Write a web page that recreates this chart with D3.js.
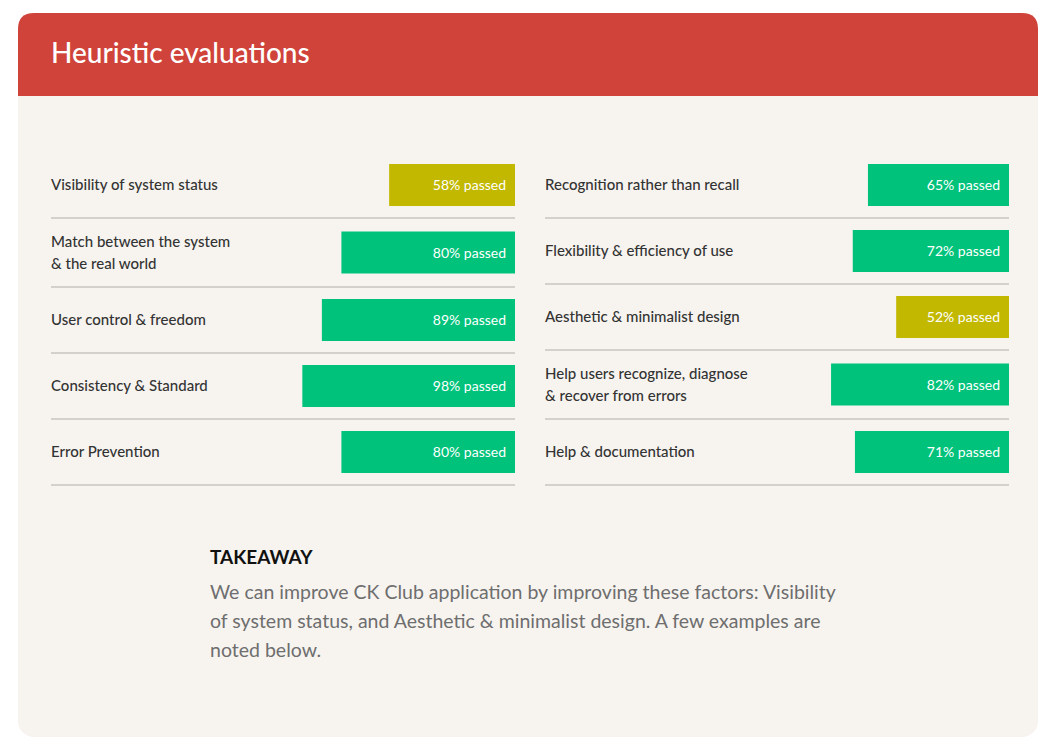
<!DOCTYPE html>
<html>
<head>
<meta charset="utf-8">
<script src="https://cdn.jsdelivr.net/npm/d3@7"></script>
<style>
  body { margin: 0; background: #fff; }
  svg { display: block; font-family: Lato, "Noto Sans", sans-serif; }
</style>
</head>
<body>
<svg id="chart" width="1056" height="750"></svg>
<script>
// heuristics, split in the two columns as on the slide
var leftLabels = [
  ['Visibility of system status'],
  ['Match between the system', '& the real world'],
  ['User control & freedom'],
  ['Consistency & Standard'],
  ['Error Prevention']
];
var leftValues = [58, 80, 89, 98, 80];

var rightLabels = [
  ['Recognition rather than recall'],
  ['Flexibility & efficiency of use'],
  ['Aesthetic & minimalist design'],
  ['Help users recognize, diagnose', '& recover from errors'],
  ['Help & documentation']
];
var rightValues = [65, 72, 52, 82, 71];

var passMark = 60; // below this the bar gets the warning colour

var takeawayLines = [
  'We can improve CK Club application by improving these factors: Visibility',
  'of system status, and Aesthetic & minimalist design. A few examples are',
  'noted below.'
];

var svg = d3.select('#chart');
var red = '#CF433B', green = '#00C27A', olive = '#C2B800';

// card + header
svg.append('rect')
  .attr('x', 18).attr('y', 13).attr('width', 1020).attr('height', 724)
  .attr('rx', 16).attr('fill', '#F7F4F0');

svg.append('path')
  .attr('d', 'M18,96 V29 Q18,13 34,13 H1022 Q1038,13 1038,29 V96 Z')
  .attr('fill', red);

svg.append('text')
  .attr('x', 51).attr('y', 63)
  .attr('fill', '#fff')
  .attr('font-size', 28)
  .attr('font-weight', 500)
  .text('Heuristic evaluations');

// bar width for a percentage
var x = d3.scaleLinear().domain([0, 100]).range([0, 217]);

function drawColumn(labels, values, left, right) {
  var rows = labels.map(function(l, i) {
    return { lines: l, value: values[i], h: 66 + 3 * (l.length - 1) };
  });
  var y = 152;
  rows.forEach(function(r) { r.y = y; y += r.h; });

  var g = svg.append('g');
  var row = g.selectAll('g.row')
    .data(rows)
    .enter().append('g')
    .attr('class', 'row')
    .attr('transform', d => `translate(0,${d.y})`);

  row.append('rect')
    .attr('x', d => right - x(d.value))
    .attr('y', d => d.h / 2 - 21)
    .attr('width', d => x(d.value))
    .attr('height', 42)
    .attr('fill', d => d.value < passMark ? olive : green);

  row.append('text')
    .attr('x', right - 9)
    .attr('y', d => d.h / 2 + 5)
    .attr('text-anchor', 'end')
    .attr('fill', '#fff')
    .attr('font-size', 14)
    .text(d => d.value + '% passed');

  row.append('text')
    .attr('fill', '#333')
    .attr('font-size', 15)
    .attr('font-weight', 500)
    .selectAll('tspan')
    .data(d => d.lines.map((t, i) => ({ t: t, i: i, n: d.lines.length, h: d.h })))
    .enter().append('tspan')
    .attr('x', left)
    .attr('y', d => d.h / 2 + 5 + (d.i - (d.n - 1) / 2) * 22)
    .text(d => d.t);

  row.append('line')
    .attr('x1', left).attr('x2', right)
    .attr('y1', d => d.h).attr('y2', d => d.h)
    .attr('stroke', '#C9C6C2')
    .attr('stroke-width', 1.5);
}

drawColumn(leftLabels, leftValues, 51, 515);
drawColumn(rightLabels, rightValues, 545, 1009);

// takeaway block
svg.append('text')
  .attr('x', 210).attr('y', 564)
  .attr('fill', '#111')
  .attr('font-size', 19)
  .attr('font-weight', 700)
  .text('TAKEAWAY');

svg.append('g').selectAll('text')
  .data(takeawayLines)
  .enter().append('text')
  .attr('x', 210)
  .attr('y', (d, i) => 599 + i * 29)
  .attr('fill', '#6E6E6E')
  .attr('font-size', 19.5)
  .text(d => d);
</script>
</body>
</html>
